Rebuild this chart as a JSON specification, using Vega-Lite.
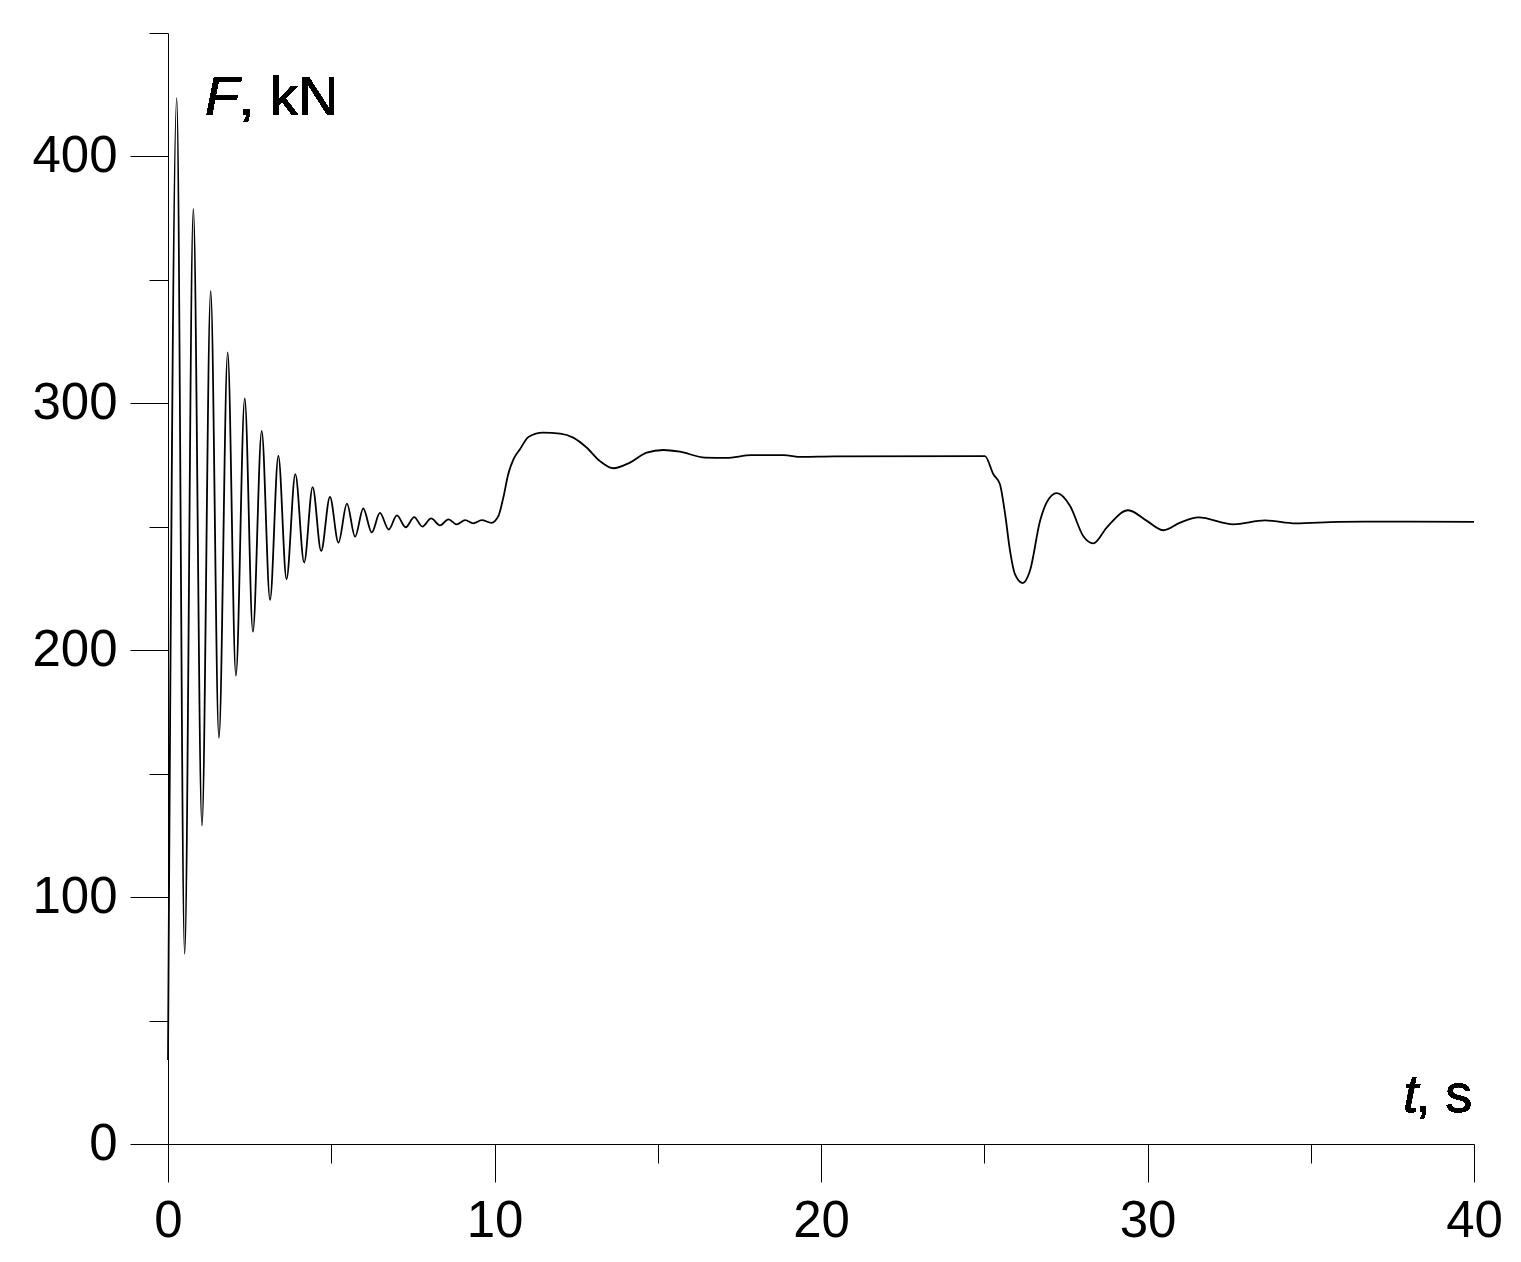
{
  "$schema": "https://vega.github.io/schema/vega-lite/v6.json",
  "width": 1306,
  "height": 1111,
  "autosize": "none",
  "padding": {"left": 168, "top": 33, "right": 47, "bottom": 118},
  "background": "white",
  "config": {"view": {"stroke": null}},
  "data": {"values": [
    {"t": 0, "F": 34},
    {"t": 0.266, "F": 423.6},
    {"t": 0.51, "F": 77},
    {"t": 0.776, "F": 378.8},
    {"t": 1.04, "F": 129},
    {"t": 1.307, "F": 345.4},
    {"t": 1.56, "F": 164.5},
    {"t": 1.828, "F": 320.6},
    {"t": 2.08, "F": 189.7},
    {"t": 2.35, "F": 302},
    {"t": 2.6, "F": 207.5},
    {"t": 2.87, "F": 288.8},
    {"t": 3.125, "F": 220.4},
    {"t": 3.38, "F": 278.7},
    {"t": 3.63, "F": 228.8},
    {"t": 3.9, "F": 271.3},
    {"t": 4.17, "F": 235.5},
    {"t": 4.43, "F": 266.1},
    {"t": 4.69, "F": 240.2},
    {"t": 4.96, "F": 262.1},
    {"t": 5.22, "F": 243.6},
    {"t": 5.48, "F": 259.4},
    {"t": 5.73, "F": 246},
    {"t": 5.98, "F": 257.4},
    {"t": 6.24, "F": 247.7},
    {"t": 6.49, "F": 255.6},
    {"t": 6.76, "F": 248.9},
    {"t": 7.01, "F": 254.6},
    {"t": 7.28, "F": 249.8},
    {"t": 7.54, "F": 253.9},
    {"t": 7.79, "F": 250.1},
    {"t": 8.06, "F": 253.4},
    {"t": 8.33, "F": 250.6},
    {"t": 8.59, "F": 253.0},
    {"t": 8.84, "F": 251.0},
    {"t": 9.1, "F": 252.7},
    {"t": 9.35, "F": 251.4},
    {"t": 9.61, "F": 252.7},
    {"t": 9.91, "F": 251.6},
    {"t": 10.12, "F": 254.4},
    {"t": 10.27, "F": 261.8},
    {"t": 10.42, "F": 271.3},
    {"t": 10.58, "F": 277.3},
    {"t": 10.78, "F": 281.4},
    {"t": 11.04, "F": 286.4},
    {"t": 11.49, "F": 288.1},
    {"t": 12.01, "F": 287.7},
    {"t": 12.41, "F": 286.1},
    {"t": 12.82, "F": 282.1},
    {"t": 13.23, "F": 276.6},
    {"t": 13.64, "F": 273.7},
    {"t": 14.15, "F": 276.0},
    {"t": 14.66, "F": 280.0},
    {"t": 15.17, "F": 281.1},
    {"t": 15.68, "F": 280.4},
    {"t": 16.45, "F": 278.0},
    {"t": 17.1, "F": 277.9},
    {"t": 17.87, "F": 279.0},
    {"t": 18.85, "F": 279.0},
    {"t": 19.4, "F": 278.3},
    {"t": 20.4, "F": 278.5},
    {"t": 25.02, "F": 278.6},
    {"t": 25.28, "F": 271.3},
    {"t": 25.48, "F": 267.2},
    {"t": 25.64, "F": 255.0},
    {"t": 25.79, "F": 240.2},
    {"t": 25.94, "F": 230.8},
    {"t": 26.18, "F": 227.2},
    {"t": 26.4, "F": 232.2},
    {"t": 26.71, "F": 252.4},
    {"t": 26.91, "F": 259.8},
    {"t": 27.22, "F": 263.6},
    {"t": 27.63, "F": 258.4},
    {"t": 28.03, "F": 246.3},
    {"t": 28.34, "F": 243.3},
    {"t": 28.75, "F": 249.7},
    {"t": 29.41, "F": 256.7},
    {"t": 29.98, "F": 252.4},
    {"t": 30.49, "F": 248.6},
    {"t": 31.0, "F": 251.7},
    {"t": 31.56, "F": 253.8},
    {"t": 32.63, "F": 251.0},
    {"t": 33.6, "F": 252.6},
    {"t": 34.54, "F": 251.4},
    {"t": 35.86, "F": 252.0},
    {"t": 38.07, "F": 252.1},
    {"t": 40, "F": 252.0}
  ]},
  "layer": [
    {
      "mark": {"type": "line", "interpolate": "monotone", "color": "black", "strokeWidth": 1.8},
      "encoding": {
        "x": {"field": "t", "type": "quantitative",
          "scale": {"domain": [0, 40], "nice": false, "zero": false},
          "axis": {"orient": "bottom", "values": [0, 10, 20, 30, 40], "tickSize": 38, "tickWidth": 1, "tickColor": "black",
            "domain": true, "domainColor": "black", "domainWidth": 1, "grid": false, "title": null,
            "labelFont": "Liberation Sans", "labelFontSize": 51, "labelColor": "black", "labelPadding": 14,
            "labelFlush": false, "labelOverlap": false, "format": "d"}},
        "y": {"field": "F", "type": "quantitative",
          "scale": {"domain": [0, 450], "nice": false},
          "axis": {"orient": "left", "values": [0, 100, 200, 300, 400], "tickSize": 38, "tickWidth": 1, "tickColor": "black",
            "domain": true, "domainColor": "black", "domainWidth": 1, "grid": false, "title": null,
            "labelFont": "Liberation Sans", "labelFontSize": 51, "labelColor": "black", "labelPadding": 13,
            "labelFlush": false, "labelOverlap": false, "format": "d"}}
      }
    },
    {
      "mark": {"type": "line", "opacity": 0},
      "encoding": {
        "x": {"field": "t", "type": "quantitative",
          "axis": {"orient": "bottom", "values": [5, 15, 25, 35], "tickSize": 19, "tickWidth": 1, "tickColor": "black",
            "domain": false, "grid": false, "title": null, "labels": false}},
        "y": {"field": "F", "type": "quantitative",
          "axis": {"orient": "left", "values": [50, 150, 250, 350, 450], "tickSize": 19, "tickWidth": 1, "tickColor": "black",
            "domain": false, "grid": false, "title": null, "labels": false}}
      }
    },
    {
      "mark": {"type": "text", "text": "F", "font": "Liberation Sans", "fontSize": 56, "fontStyle": "italic", "color": "black", "align": "left", "baseline": "alphabetic"},
      "encoding": {
        "x": {"datum": 1.133, "type": "quantitative", "axis": null},
        "y": {"datum": 416.9, "type": "quantitative", "axis": null}
      }
    },
    {
      "mark": {"type": "text", "text": ", kN", "font": "Liberation Sans", "fontSize": 56, "color": "black", "align": "left", "baseline": "alphabetic"},
      "encoding": {
        "x": {"datum": 2.17, "type": "quantitative", "axis": null},
        "y": {"datum": 416.9, "type": "quantitative", "axis": null}
      }
    },
    {
      "mark": {"type": "text", "text": "t", "font": "Liberation Sans", "fontSize": 54, "fontStyle": "italic", "color": "black", "align": "left", "baseline": "alphabetic"},
      "encoding": {
        "x": {"datum": 37.83, "type": "quantitative", "axis": null},
        "y": {"datum": 12.9, "type": "quantitative", "axis": null}
      }
    },
    {
      "mark": {"type": "text", "text": ", s", "font": "Liberation Sans", "fontSize": 54, "color": "black", "align": "left", "baseline": "alphabetic"},
      "encoding": {
        "x": {"datum": 38.2, "type": "quantitative", "axis": null},
        "y": {"datum": 12.9, "type": "quantitative", "axis": null}
      }
    }
  ],
  "resolve": {"axis": {"x": "independent", "y": "independent"}}
}
